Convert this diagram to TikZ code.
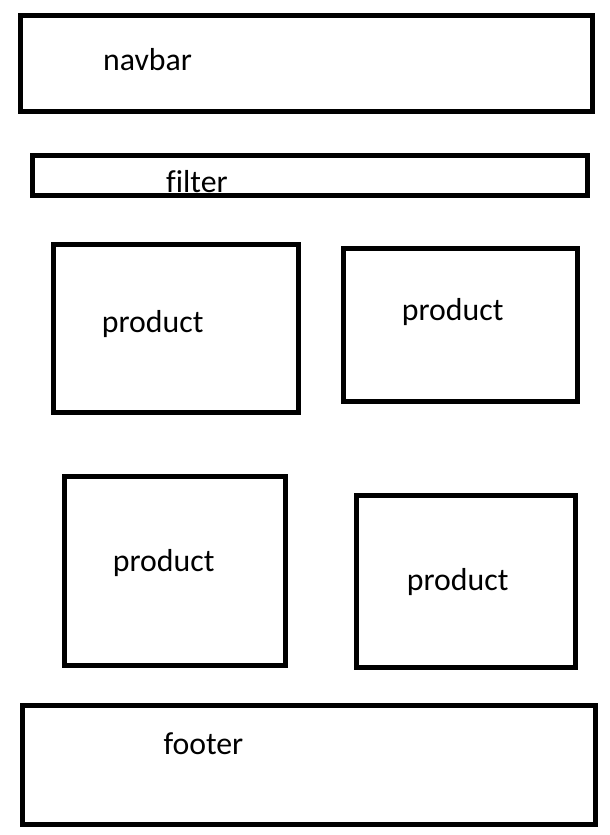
\documentclass[tikz,border=0pt]{standalone}
\usepackage{fontspec}
\setmainfont[Ligatures=NoCommon]{Carlito}
\usepackage{tikz}
\usetikzlibrary{positioning}

\tikzset{
  wbox/.style={draw, line width=5pt, inner sep=0pt, outer sep=0pt},
  lbl/.style={anchor=base west, inner sep=0pt, font=\fontsize{31.8}{36}\selectfont}
}

\begin{document}
\begin{tikzpicture}[x=1pt, y=-1pt]
 \useasboundingbox (0,0) rectangle (610,835);

 \node[wbox, minimum width=572pt, minimum height=95.5pt] (navbar) at (306.5,63.3) {};
 \node[wbox, minimum width=555pt, minimum height=40pt] (filter) at (310,175.5) {};
 \node[wbox, minimum width=244.7pt, minimum height=168.5pt] (P1) at (175.7,328.3) {};
 \node[wbox, minimum width=234pt, minimum height=153.4pt] (P2) at (460.5,325) {};
 \node[wbox, minimum width=221.8pt, minimum height=188.5pt] (P3) at (174.9,570.8) {};
 \node[wbox, minimum width=219.3pt, minimum height=171.7pt] (P4) at (466.2,581.7) {};
 \node[wbox, minimum width=573.3pt, minimum height=118.2pt] (footer) at (309.2,764.9) {};

 \node[lbl] (navbarT) at (103,70) {navbar};
 \node[lbl] (filterT) at (166,192) {filter};
 \node[lbl] (P1T) at (101.7,332.3) {product};
 \node[lbl] (P2T) at (401.7,320.7) {product};
 \node[lbl] (P3T) at (112.7,571) {product};
 \node[lbl] (P4T) at (406.7,590) {product};
 \node[lbl] (footerT) at (163.3,754) {footer};
\end{tikzpicture}
\end{document}
